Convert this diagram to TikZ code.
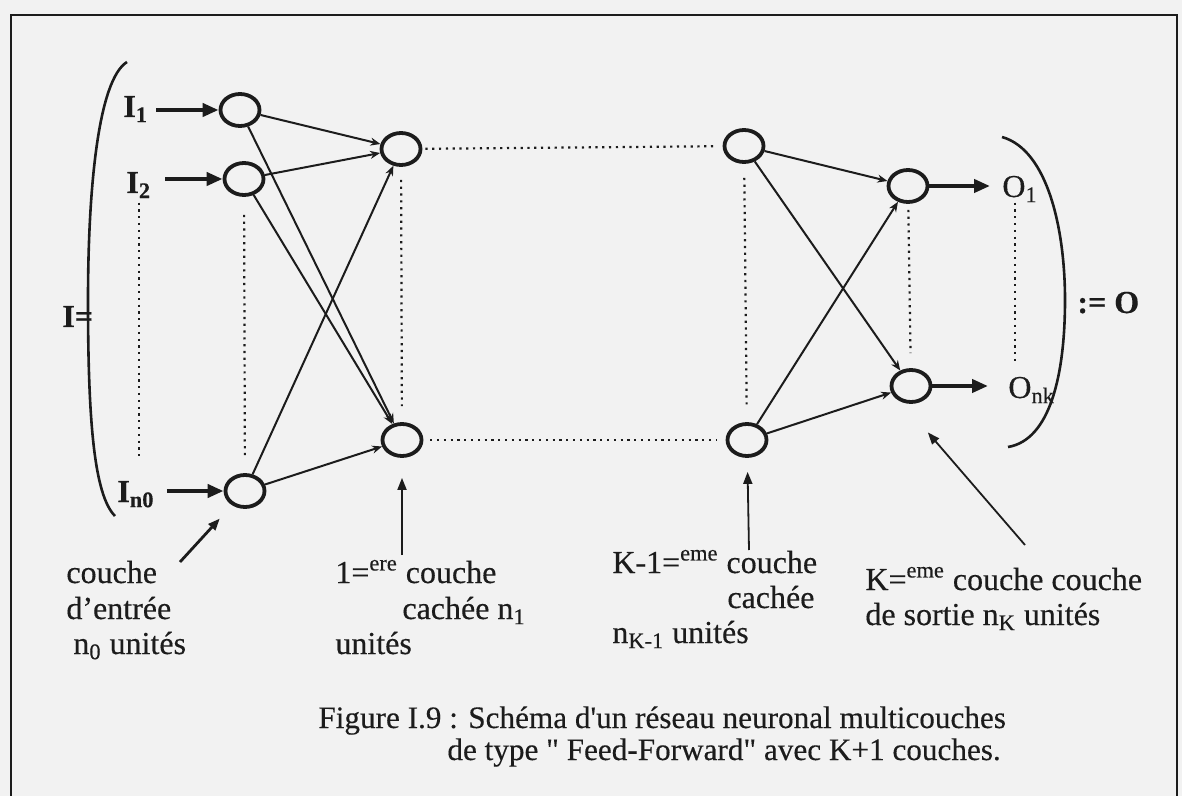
\documentclass[tikz,border=0pt]{standalone}
\usepackage{fontspec}
\setmainfont{Liberation Serif}[FakeBold=0.35]
\newfontfamily\capfont{Liberation Serif}[Ligatures=TeXOff,FakeBold=0.3]
\usetikzlibrary{arrows.meta,shapes.geometric}
\definecolor{ink}{RGB}{28,28,28}
\definecolor{paper}{RGB}{242,242,242}
\begin{document}
\begin{tikzpicture}[x=0.5pt,y=-0.5pt,
  neuron/.style={draw=ink,ellipse,line width=1.9pt,minimum width=19.5pt,minimum height=16pt,inner sep=0pt},
  txt/.style={anchor=base west,inner sep=0pt,text=ink,font=\fontsize{16}{19}\selectfont},
  btxt/.style={txt,font=\fontsize{16}{19}\selectfont\bfseries},
  captxt/.style={txt,font=\capfont\fontsize{15.6}{18}\selectfont},
  inarrow/.style={draw=ink,line width=2.2pt,-{Triangle[length=8pt,width=6.5pt]}},
  link/.style={draw=ink,line width=1pt,-{Stealth[length=5pt,width=4pt]}},
  dotline/.style={draw=ink,line width=1.1pt,dash pattern=on 1.1pt off 2.3pt},
  labarrow/.style={draw=ink,line width=0.9pt,-{Triangle[length=6pt,width=4.5pt]}},
  paren/.style={draw=ink,line width=1.3pt},
]
\fill[paper] (0,0) rectangle (1182,796);
\useasboundingbox (0,0) rectangle (1182,796);
\draw[ink,line width=1.2pt] (11,796) -- (11,15) -- (1177,15) -- (1177,796);

% neurons
\node[neuron] (n11) at (240,110) {};
\node[neuron] (n12) at (244,179) {};
\node[neuron] (n1n) at (245,491) {};
\node[neuron] (h1) at (401,149) {};
\node[neuron] (h1b) at (402,440) {};
\node[neuron] (k1) at (744,146) {};
\node[neuron] (k1b) at (747,440) {};
\node[neuron] (o1) at (908,186) {};
\node[neuron] (ob) at (911,386) {};

% input / output labels
\node[btxt] (I1) at (123,117) {I\textsubscript{1}};
\node[btxt] (I2) at (126,193) {I\textsubscript{2}};
\node[btxt] (In) at (117,502) {I\textsubscript{n0}};
\node[txt] (O1) at (1002,197) {O\textsubscript{1}};
\node[txt] (On) at (1008,398) {O\textsubscript{nk}};
\node[btxt] (Ieq) at (62,327) {I=};
\node[btxt] (Oeq) at (1077,313) {:= O};

% parentheses
\draw[paren] (127,62) .. controls (98,80) and (88,190) .. (88,300) .. controls (88,420) and (94,495) .. (115,516);
\draw[paren] (1002,137) .. controls (1048,150) and (1065,230) .. (1065,300) .. controls (1065,375) and (1050,440) .. (1008,447);

% input and output arrows
\draw[inarrow] ([xshift=4pt]I1.east |- n11) -- (n11);
\draw[inarrow] ([xshift=7pt]I2.east |- n12) -- (n12);
\draw[inarrow] ([xshift=6pt]In.east |- n1n) -- (n1n);
\draw[inarrow,shorten >=6pt] (o1) -- (O1.west |- o1);
\draw[inarrow,shorten >=10pt] (ob) -- (On.west |- ob);

% links
\foreach \a in {n11,n12,n1n} \foreach \b in {h1,h1b} \draw[link] (\a) -- (\b);
\foreach \a in {k1,k1b} \foreach \b in {o1,ob} \draw[link] (\a) -- (\b);

% dotted lines
\draw[dotline,shorten <=2pt,shorten >=11pt] (I2.south) -- (I2.south |- In.north);
\draw[dotline,shorten <=9pt,shorten >=8pt] (n12) -- (n1n);
\draw[dotline,shorten <=6.5pt,shorten >=8pt] (h1) -- (h1b);
\draw[dotline,shorten <=7pt,shorten >=8.5pt] (k1) -- (k1b);
\draw[dotline,shorten <=3pt,shorten >=7.5pt] (o1) -- (ob);
\draw[dotline,shorten >=7pt] ([xshift=-2.5pt]O1.south) -- ([xshift=-2.5pt]O1.south |- On.north);
\draw[dotline,shorten <=1.5pt,shorten >=4pt] (h1) -- (k1);
\draw[dotline,shorten <=3.4pt,shorten >=4.4pt] (h1b) -- (k1b);

% bottom labels
\node[txt] (L0a) at (66,583) {couche};
\node[txt] (L0b) at (66,619) {d’entrée};
\node[txt] (L0c) at (73,654) {n\textsubscript{0} unités};
\node[txt] (L1a) at (335,583) {1=\textsuperscript{ere} couche};
\node[txt] (L1b) at (402,619) {cachée n\textsubscript{1}};
\node[txt] (L1c) at (335,654) {unités};
\node[txt] (L2a) at (612,573) {K-1=\textsuperscript{eme} couche};
\node[txt] (L2b) at (727,608) {cachée};
\node[txt] (L2c) at (612,643) {n\textsubscript{K-1} unités};
\node[txt] (L3a) at (865,590) {K=\textsuperscript{eme} couche couche};
\node[txt] (L3b) at (865,625) {de sortie n\textsubscript{K} unités};

% label arrows
\coordinate (a0) at (180,562);
\coordinate (a1) at (402,555);
\coordinate (a2) at (749,550);
\coordinate (a3) at (1025,545);
\draw[labarrow,line width=1.4pt,shorten >=9pt] (a0) -- (n1n);
\draw[labarrow,shorten >=10pt] (a1) -- (h1b);
\draw[labarrow,shorten >=7pt] (a2) -- (k1b);
\draw[labarrow,shorten >=20pt] (a3) -- (ob.-120);

% caption
\node[captxt] (C1) at (318,728) {Figure I.9 : Schéma d'un réseau neuronal multicouches};
\node[captxt] (C2) at (447,760) {de type " Feed-Forward" avec K+1 couches.};
\end{tikzpicture}
\end{document}
